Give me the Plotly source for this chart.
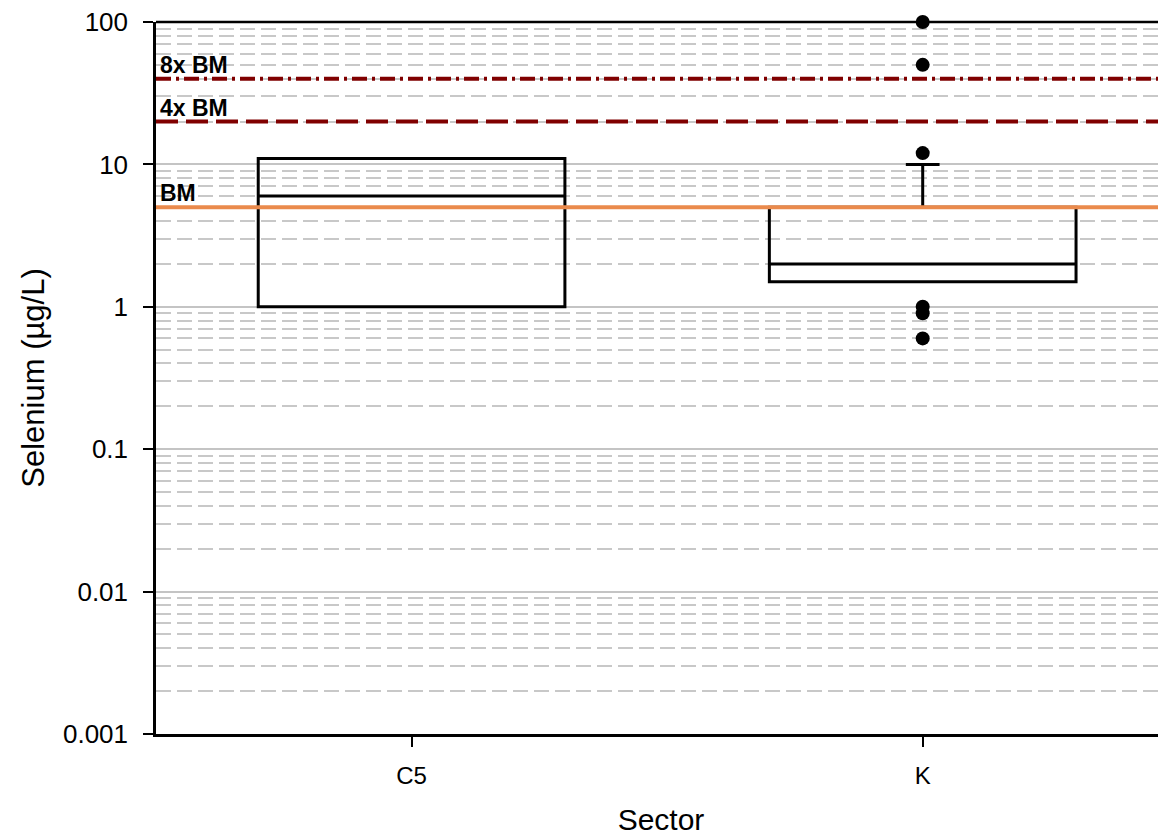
import math
import plotly.graph_objects as go

# ---- data ----
sectors = ["C5", "K"]
q1_vals = [1.0, 1.5]
median_vals = [6.0, 2.0]
q3_vals = [11.0, 5.0]
lower_fence = [1.0, 1.5]
upper_fence = [11.0, 10.0]

outlier_sector = ["K", "K", "K", "K", "K", "K"]
outlier_values = [100, 50, 12, 1.0, 0.9, 0.6]

bm_value = 5.0
bm_labels = ["BM", "4x BM", "8x BM"]
bm_multipliers = [1, 4, 8]
bm_colors = ["#ea8a4c", "#800000", "#800000"]
bm_dashes = ["solid", "22px,8px", "15px,5px,3px,5px"]

ytick_vals = [0.001, 0.01, 0.1, 1, 10, 100]
ytick_text = ["0.001", "0.01", "0.1", "1", "10", "100"]

FONT = "Liberation Sans, Arial, sans-serif"
PAGE_OFFSET = 8  # default body margin of the page

fig = go.Figure()

fig.add_trace(go.Box(
    x=sectors, q1=q1_vals, median=median_vals, q3=q3_vals,
    lowerfence=lower_fence, upperfence=upper_fence,
    width=0.6, whiskerwidth=0.11,
    line=dict(color="black", width=3),
    fillcolor="rgba(0,0,0,0)",
    boxpoints=False, showlegend=False, hoverinfo="skip",
))

# benchmark lines
for lab, m, col, dash in zip(bm_labels, bm_multipliers, bm_colors, bm_dashes):
    fig.add_shape(type="line", xref="paper", x0=0, x1=1, yref="y",
                  y0=bm_value * m, y1=bm_value * m,
                  line=dict(color=col, width=4, dash=dash), layer="above")
    fig.add_annotation(xref="paper", x=0.002, yref="y",
                       y=math.log10(bm_value * m),
                       text="<b>%s</b>" % lab, showarrow=False,
                       xanchor="left", yanchor="bottom", yshift=-1,
                       font=dict(family=FONT, size=23, color="black"))

fig.add_trace(go.Scatter(
    x=outlier_sector, y=outlier_values, mode="markers",
    marker=dict(color="black", size=14),
    cliponaxis=False, showlegend=False, hoverinfo="skip",
))

# top border
fig.add_shape(type="line", xref="paper", x0=0, x1=1, yref="paper", y0=1, y1=1,
              line=dict(color="black", width=2.5), layer="above")

fig.update_layout(
    width=1166 - PAGE_OFFSET, height=836 - PAGE_OFFSET,
    margin=dict(l=156 - PAGE_OFFSET, r=0, t=22 - PAGE_OFFSET, b=102,
                autoexpand=False),
    plot_bgcolor="white", paper_bgcolor="white",
    font=dict(family=FONT, color="black", size=26),
)

fig.update_xaxes(
    type="category", range=[-0.5, 1.476], automargin=False,
    showline=True, linecolor="black", linewidth=2.5,
    ticks="outside", ticklen=10, tickwidth=2, tickcolor="black",
    ticklabelstandoff=8,
    tickfont=dict(size=24, family=FONT),
    title=dict(text="Sector", font=dict(size=30, family=FONT), standoff=22),
    showgrid=False, zeroline=False,
)

fig.update_yaxes(
    type="log", range=[-3, 2], automargin=False,
    tickvals=ytick_vals, ticktext=ytick_text,
    ticklabeloverflow="allow",
    showline=True, linecolor="black", linewidth=2.5,
    ticks="outside", ticklen=10, tickwidth=2, tickcolor="black",
    ticklabelstandoff=10,
    tickfont=dict(size=26, family=FONT),
    title=dict(text="Selenium (µg/L)", font=dict(size=31, family=FONT), standoff=10),
    showgrid=True, gridcolor="#c4c4c4", gridwidth=1.5,
    minor=dict(showgrid=True, gridcolor="#c8c8c8", griddash="15px,6px",
               gridwidth=1.5, dtick="D1", ticks=""),
    zeroline=False,
)

fig.write_html("out.html")
